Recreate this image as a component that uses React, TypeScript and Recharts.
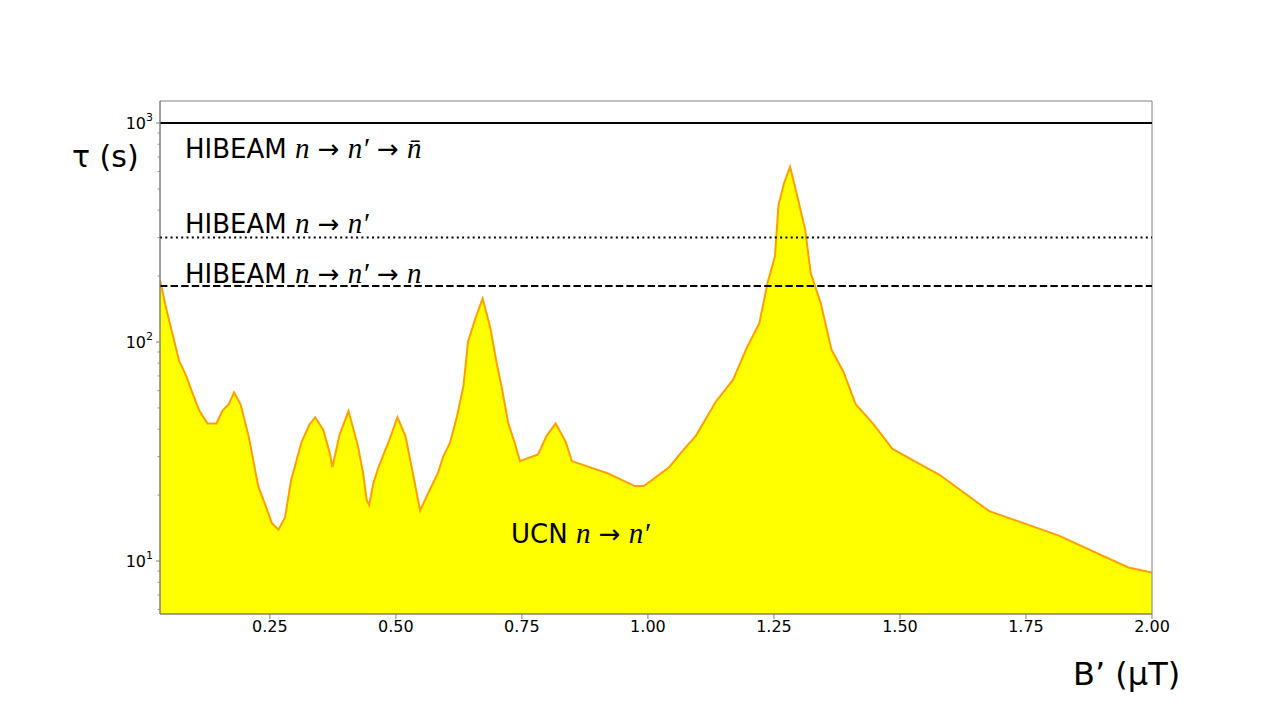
import React from "react";
import { ComposedChart, Area, XAxis, YAxis, ReferenceLine, ReferenceArea } from "recharts";

// B' field values (uT) and UCN lifetime limit tau (s)
const bField = [
  0.032, 0.045, 0.07, 0.083, 0.097, 0.11, 0.126, 0.144, 0.156, 0.168, 0.179, 0.192,
  0.208, 0.227, 0.241, 0.254, 0.267, 0.28, 0.292, 0.303, 0.313, 0.329, 0.34, 0.356,
  0.369, 0.374, 0.388, 0.406, 0.425, 0.435, 0.442, 0.447, 0.455, 0.466, 0.487, 0.503,
  0.519, 0.535, 0.548, 0.564, 0.583, 0.594, 0.607, 0.621, 0.634, 0.643, 0.657, 0.672,
  0.687, 0.7, 0.71, 0.723, 0.736, 0.746, 0.782, 0.799, 0.817, 0.837, 0.849, 0.921,
  0.974, 0.992, 1.042, 1.07, 1.095, 1.135, 1.169, 1.196, 1.221, 1.237, 1.252, 1.259,
  1.27, 1.282, 1.295, 1.312, 1.323, 1.343, 1.364, 1.388, 1.412, 1.447, 1.485, 1.579,
  1.677, 1.814, 1.953, 2.0,
];
const tauUcn = [
  192, 140, 82, 71, 58, 48.6, 42.5, 42.5, 48.6, 51.8, 58.9, 51.8,
  37, 21.9, 18, 14.9, 13.9, 15.8, 23.4, 28.9, 35, 42.2, 45.3, 39.7,
  31, 26.8, 37.6, 48.4, 33.3, 25.1, 19, 18, 22.6, 27, 35.7, 45.3,
  37.2, 24.3, 17, 20.4, 25.1, 30, 34.5, 45.6, 63, 100, 127, 158,
  117, 80, 62, 42.5, 34.5, 28.6, 30.7, 37.3, 42.5, 35, 28.6, 25.1,
  22, 22, 26.8, 32.1, 37.3, 53.5, 67.3, 94, 121.7, 185, 247, 422,
  531, 631, 477, 325, 206, 150, 92.5, 73, 52, 42.3, 32.5, 24.7,
  16.9, 13.1, 9.35, 8.87,
];

// HIBEAM sensitivities: n->n'->nbar, n->n', n->n'->n
const hibeamLimits = [1000, 300, 180];

const xTicks = [0.25, 0.5, 0.75, 1.0, 1.25, 1.5, 1.75, 2.0];
const yMajor = [10, 100, 1000];
const yMinor = [6, 7, 8, 9, 20, 30, 40, 50, 60, 70, 80, 90, 200, 300, 400, 500, 600, 700, 800, 900];

const xDomain = [0.032, 2.0];
const yDomain = [5.73, 1260];

const data = bField.map((b, i) => ({ b, tau: tauUcn[i] }));

const SANS = "'DejaVu Sans', sans-serif";
const MATH = "'Liberation Serif', serif";
const AXIS = "#808080";

const YTick = (props: any) => {
  const { x, y, payload } = props;
  const v = payload.value;
  const major = yMajor.includes(v);
  if (!major) {
    return <line x1={x - 2.5} x2={x} y1={y} y2={y} stroke={AXIS} strokeWidth={0.8} />;
  }
  const exp = Math.round(Math.log10(v));
  return (
    <g>
      <line x1={x - 4} x2={x} y1={y} y2={y} stroke={AXIS} strokeWidth={1} />
      <text x={x - 7} y={y + 6} textAnchor="end" fontFamily={SANS} fontSize={16} fill="#000">
        10
        <tspan dy={-8} fontSize={11}>{exp}</tspan>
      </text>
    </g>
  );
};

// math pieces: italic n's in a serif face, arrows in DejaVu
const N = ({ s }: { s: string }) => (
  <tspan fontFamily={MATH} fontStyle="italic" fontSize={29}>{s}</tspan>
);
const Arrow = () => <tspan fontFamily={SANS} fontSize={26}> → </tspan>;

export default function App() {
  return (
    <div style={{ position: "absolute", left: 0, top: 0, width: 1280, height: 720, background: "#fff" }}>
      <ComposedChart
        width={1280}
        height={720}
        data={data}
        margin={{ top: 101, right: 128, left: 100, bottom: 76 }}
      >
        <XAxis
          dataKey="b"
          type="number"
          domain={xDomain}
          allowDataOverflow
          ticks={xTicks}
          tickFormatter={(v: number) => v.toFixed(2)}
          height={30}
          tickSize={5}
          tickMargin={2}
          stroke={AXIS}
          tick={{ fill: "#000", fontSize: 16, fontFamily: SANS }}
        />
        <YAxis
          type="number"
          scale="log"
          domain={yDomain}
          allowDataOverflow
          ticks={[...yMinor, ...yMajor]}
          width={60}
          tickSize={0}
          tickMargin={0}
          tickLine={false}
          tick={<YTick />}
          interval={0}
          stroke={AXIS}
        />
        <Area
          type="linear"
          dataKey="tau"
          baseValue={yDomain[0]}
          fill="#ffff00"
          fillOpacity={1}
          stroke="#ff9f00"
          strokeWidth={2}
          isAnimationActive={false}
          dot={false}
          activeDot={false}
        />
        <ReferenceLine y={hibeamLimits[0]} stroke="#000" strokeWidth={2} />
        <ReferenceLine y={hibeamLimits[1]} stroke="#000" strokeWidth={2} strokeDasharray="2 3.3" />
        <ReferenceLine y={hibeamLimits[2]} stroke="#000" strokeWidth={2} strokeDasharray="7.4 3.2" />
        <ReferenceArea
          x1={xDomain[0]}
          x2={xDomain[1]}
          y1={yDomain[0]}
          y2={yDomain[1]}
          fill="none"
          stroke={AXIS}
          strokeWidth={1}
          ifOverflow="visible"
        />
      </ComposedChart>
      <svg
        width={1280}
        height={720}
        style={{ position: "absolute", left: 0, top: 0, pointerEvents: "none" }}
      >
        <text x={72} y={167} fontFamily={SANS} fontSize={30} fill="#000">τ (s)</text>
        <text x={1073} y={685} fontFamily={SANS} fontSize={32} fill="#000">B’ (μT)</text>
        <text x={185} y={158} fontSize={26} fill="#000">
          <tspan fontFamily={SANS}>HIBEAM </tspan>
          <N s="n" /><Arrow /><N s="n′" /><Arrow /><N s="n̄" />
        </text>
        <text x={185} y={233} fontSize={26} fill="#000">
          <tspan fontFamily={SANS}>HIBEAM </tspan>
          <N s="n" /><Arrow /><N s="n′" />
        </text>
        <text x={185} y={283} fontSize={26} fill="#000">
          <tspan fontFamily={SANS}>HIBEAM </tspan>
          <N s="n" /><Arrow /><N s="n′" /><Arrow /><N s="n" />
        </text>
        <text x={511} y={543} fontSize={26} fill="#000">
          <tspan fontFamily={SANS}>UCN  </tspan>
          <N s="n" /><Arrow /><N s="n′" />
        </text>
      </svg>
    </div>
  );
}
